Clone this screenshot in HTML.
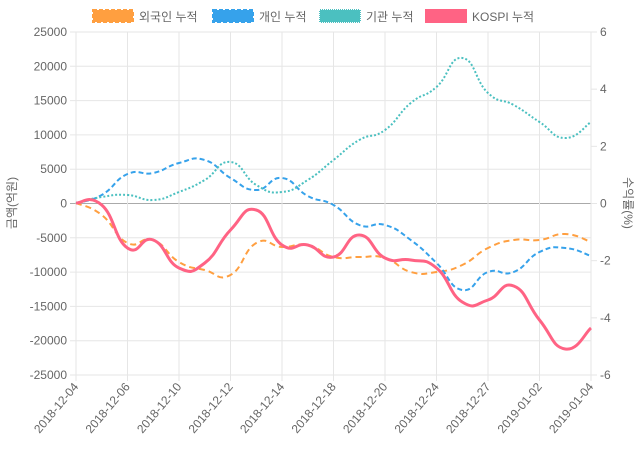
<!DOCTYPE html>
<html><head><meta charset="utf-8"><style>
body{margin:0;background:#fff;}
svg{display:block;font-family:"Liberation Sans","Noto Sans CJK KR",sans-serif;}
</style></head><body>
<svg id="c" width="640" height="450" xmlns="http://www.w3.org/2000/svg">
<g id="grid"></g>
<g id="series"></g>
<g font-size="12" fill="#666">
<rect x="93" y="10" width="40" height="12" fill="#ff9f40" stroke="#ff9f40" stroke-dasharray="4,2" stroke-width="2"/>
<text x="139" y="21">외국인 누적</text>
<rect x="213" y="10" width="40" height="12" fill="#36a2eb" stroke="#36a2eb" stroke-dasharray="4,2" stroke-width="2"/>
<text x="259" y="21">개인 누적</text>
<rect x="320" y="10" width="40" height="12" fill="#4bc0c0" stroke="#4bc0c0" stroke-dasharray="1,1" stroke-width="2"/>
<text x="366" y="21">기관 누적</text>
<rect x="426" y="10" width="40" height="12" fill="#ff6384" stroke="#ff6384" stroke-width="2"/>
<text x="472" y="21">KOSPI 누적</text>
<text transform="translate(16,203) rotate(-90)" text-anchor="middle">금액(억원)</text>
<text transform="translate(624,203) rotate(90)" text-anchor="middle">수익률(%)</text>
</g>
</svg>
<script>
var g=document.getElementById('grid'),s=document.getElementById('series'),NS='http://www.w3.org/2000/svg';
function el(p,t,a,txt){var e=document.createElementNS(NS,t);for(var k in a)e.setAttribute(k,a[k]);if(txt!=null)e.textContent=txt;p.appendChild(e);return e;}
var x0=76,x1=591,yt=32,yb=375,n=21,dx=(x1-x0)/20;
for(var i=0;i<=10;i++){var v=25000-i*5000,y=yt+i*(yb-yt)/10;
el(g,'line',{x1:x0-6,x2:x1,y1:y,y2:y,stroke:v==0?'#aaa':'#e6e6e6','stroke-width':1});
el(g,'text',{x:x0-9,y:y+4,'text-anchor':'end','font-size':12,fill:'#666'},String(v));}
for(var i=0;i<=6;i++){var v=6-i*2,y=yt+i*(yb-yt)/6;
el(g,'line',{x1:x1,x2:x1+6,y1:y,y2:y,stroke:'#e6e6e6'});
el(g,'text',{x:x1+9,y:y+4,'font-size':12,fill:'#666'},String(v));}
var labs=['2018-12-04','2018-12-06','2018-12-10','2018-12-12','2018-12-14','2018-12-18','2018-12-20','2018-12-24','2018-12-27','2019-01-02','2019-01-04'];
for(var i=0;i<11;i++){var x=x0+i*2*dx;
el(g,'line',{x1:x,x2:x,y1:yt,y2:yb+6,stroke:'#e6e6e6'});
el(g,'text',{transform:'translate('+(x+3)+','+(yb+12)+') rotate(-50)','text-anchor':'end','font-size':12,fill:'#666'},labs[i]);}
function path(ys){var P=ys.map(function(y,i){return [x0+i*dx,y];});var d='M'+P[0][0]+','+P[0][1];var t=0.3;
for(var i=0;i<P.length-1;i++){var p0=P[i-1]||P[i],p1=P[i],p2=P[i+1],p3=P[i+2]||P[i+1];
d+=' C'+(p1[0]+(p2[0]-p0[0])*t/1.2)+','+(p1[1]+(p2[1]-p0[1])*t/1.2)+' '+(p2[0]-(p3[0]-p1[0])*t/1.2)+','+(p2[1]-(p3[1]-p1[1])*t/1.2)+' '+p2[0]+','+p2[1];}
return d;}
var F=[203,215,243,240,262,270,275,243,247,245,257,257,258,272,272,265,248,240,240,234,242];
var I=[203,195,174,173,163,160,178,190,178,196,205,225,225,240,263,290,272,272,252,248,256];
var N=[203,197,195,200,192,180,162,185,192,180,160,140,130,103,87,58,93,105,122,138,122];
var K=[203,205,248,240,268,263,230,210,245,245,257,235,258,260,268,302,300,286,320,349,328];
el(s,'path',{d:path(F),fill:'none',stroke:'#ff9f40','stroke-width':2,'stroke-dasharray':'6,4'});
el(s,'path',{d:path(I),fill:'none',stroke:'#36a2eb','stroke-width':2,'stroke-dasharray':'5,3'});
el(s,'path',{d:path(N),fill:'none',stroke:'#4bc0c0','stroke-width':2,'stroke-dasharray':'2,2'});
el(s,'path',{d:path(K),fill:'none',stroke:'#ff6384','stroke-width':3});
</script>
</body></html>
